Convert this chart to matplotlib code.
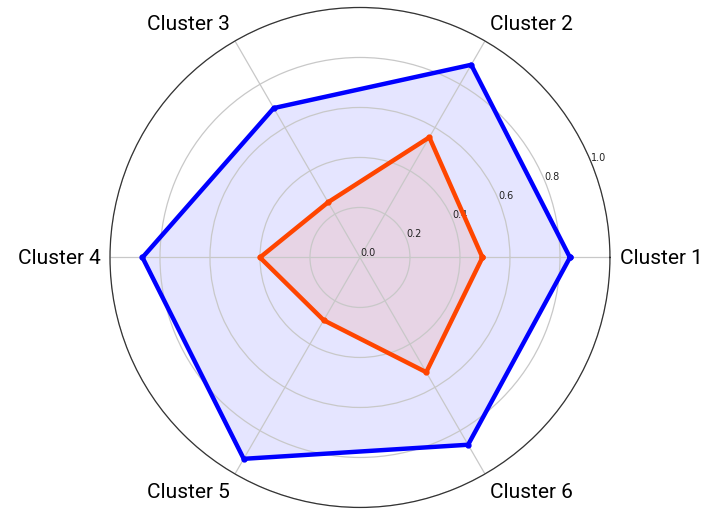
import numpy as np
import matplotlib
matplotlib.use("Agg")
import matplotlib.pyplot as plt

categories = ["Cluster 1", "Cluster 2", "Cluster 3", "Cluster 4", "Cluster 5", "Cluster 6"]
series_a = [0.84, 0.89, 0.69, 0.87, 0.93, 0.865]   # blue
series_b = [0.49, 0.555, 0.255, 0.40, 0.29, 0.53]  # orange
rticks = [0.0, 0.2, 0.4, 0.6, 0.8, 1.0]

n = len(categories)
angles = np.linspace(0, 2 * np.pi, n, endpoint=False).tolist()
angles_c = angles + angles[:1]
a_c = series_a + series_a[:1]
b_c = series_b + series_b[:1]

fig = plt.figure(figsize=(7.05, 5.10), dpi=100)
ax = fig.add_axes([0.5106 - 0.3546, 0.003, 0.7092, 0.9804], projection="polar")

ax.plot(angles_c, a_c, color="blue", linewidth=3.2, marker="o", markersize=3.5)
ax.fill(angles_c, a_c, color="blue", alpha=0.1)
ax.plot(angles_c, b_c, color="orangered", linewidth=3.2, marker="o", markersize=3.5)
ax.fill(angles_c, b_c, color="orangered", alpha=0.1)

ax.set_ylim(0, 1.0)
ax.set_yticks(rticks)
ax.set_yticklabels([f"{t:.1f}" for t in rticks], fontsize=7, color="#222222")
ax.set_rlabel_position(22.5)
ax.set_xticks(angles)
ax.set_xticklabels([])
ax.grid(color="#c8c8c8", linewidth=0.9)
ax.spines["polar"].set_color("#333333")
ax.spines["polar"].set_linewidth(0.9)

for ang, lab in zip(angles, categories):
    c, s = np.cos(ang), np.sin(ang)
    ha = "left" if c > 0.1 else ("right" if c < -0.1 else "center")
    va = "bottom" if s > 0.1 else ("top" if s < -0.1 else "center")
    ax.annotate(lab, xy=(ang, 1.0), xytext=(7 * c, 7 * s), textcoords="offset points",
                ha=ha, va=va, fontsize=15, family="Roboto", color="black",
                annotation_clip=False)

fig.savefig("out.png", dpi=100)
